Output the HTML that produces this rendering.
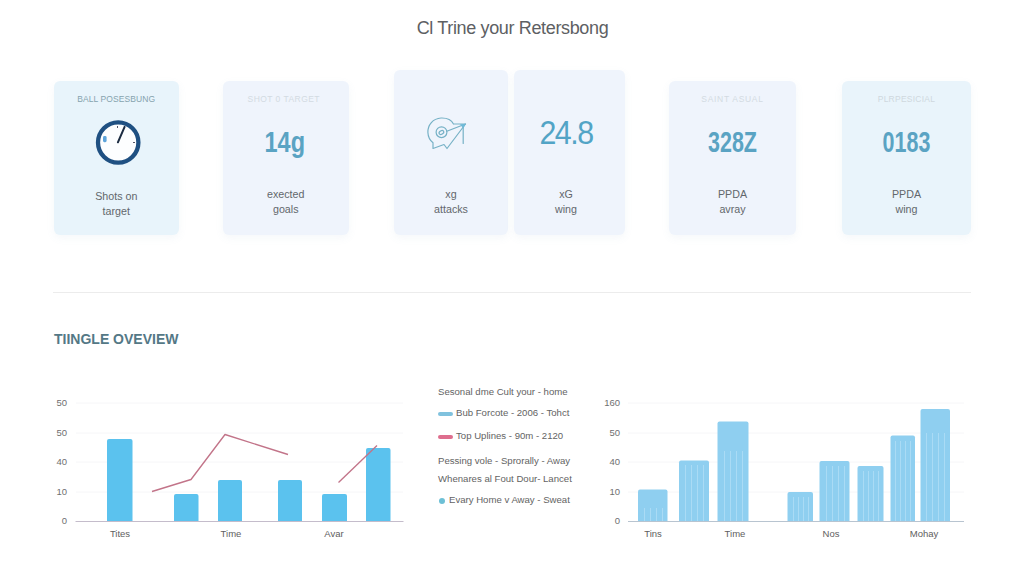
<!DOCTYPE html>
<html><head><meta charset="utf-8">
<style>
*{margin:0;padding:0;box-sizing:border-box}
html,body{width:1024px;height:585px;overflow:hidden;background:#ffffff;font-family:"Liberation Sans",sans-serif}
.a{position:absolute;white-space:nowrap}
.card{position:absolute;border-radius:6px;box-shadow:0 3px 8px rgba(120,150,180,0.07)}
.lab{position:absolute;font-size:8.5px;text-align:center;letter-spacing:0.1px;width:100%;left:0}
.txt{position:absolute;font-size:10.7px;color:#62676b;text-align:center;width:100%;left:0;line-height:15px}
.big{position:absolute;font-weight:bold;color:#5aa3c3;text-align:center;width:100%;left:0;font-size:29px;line-height:29px;transform:scaleX(0.74)}
.yl{position:absolute;font-size:9.5px;color:#707070;text-align:right;width:30px}
.xl{position:absolute;font-size:9.5px;color:#606060;text-align:center;width:60px}
.leg{position:absolute;font-size:9.6px;color:#636363;left:438px}
</style></head><body>

<div class="a" style="left:0;width:1024px;text-align:center;top:18px;font-size:18px;color:#5d6063;letter-spacing:-0.35px;padding-left:1px">Cl Trine your Retersbong</div>

<!-- card 1 -->
<div class="card" style="left:53.5px;top:81px;width:125.5px;height:154px;background:#e8f4fb">
  <div class="lab" style="top:13px;color:#86a3ae">BALL POSESBUNG</div>
  <svg style="position:absolute;left:40px;top:38px" width="48" height="48" viewBox="0 0 48 48">
    <circle cx="24.2" cy="23.5" r="20.2" fill="#fdfeff" stroke="#1f5082" stroke-width="4.3"/>
    <line x1="23.9" y1="23.3" x2="30.6" y2="7.9" stroke="#1c2c42" stroke-width="2" stroke-linecap="round"/>
    <line x1="23.5" y1="7" x2="23.5" y2="9" stroke="#556" stroke-width="1"/>
    <line x1="39" y1="23.5" x2="41" y2="23.5" stroke="#556" stroke-width="1"/>
    <rect x="9" y="17" width="3.6" height="6.2" rx="1.4" fill="#5ea4db"/>
  </svg>
  <div class="txt" style="top:108px">Shots on<br>target</div>
</div>

<!-- card 2 -->
<div class="card" style="left:223px;top:81px;width:125.5px;height:154px;background:#eff4fc">
  <div class="lab" style="top:13px;color:#d3dbe2;letter-spacing:0.45px;left:-2px">SHOT 0 TARGET</div>
  <div class="big" style="top:47px;left:-1px;transform:scaleX(0.81)">14g</div>
  <div class="txt" style="top:106px">exected<br>goals</div>
</div>

<!-- card 3 -->
<div class="card" style="left:394px;top:70px;width:114px;height:165px;background:#eff4fc">
  <svg style="position:absolute;left:30px;top:44px" width="48" height="40" viewBox="0 0 48 40">
    <g fill="none" stroke="#76b1c6" stroke-width="1.2" stroke-linejoin="round" stroke-linecap="round">
      <path d="M29.5 10 C27 5 22 3.8 17 4 C9 4.5 3.6 11 3.9 18.5 C4.1 23 6 26.5 9 28.8 L9 34.5 L20 30.5 L23 34.5 L41.5 10 L29.5 10"/>
      <circle cx="17.5" cy="18.2" r="5.4"/>
      <ellipse cx="17.4" cy="18.5" rx="2.5" ry="1.7" transform="rotate(-30 17.4 18.5)"/>
      <path d="M22.8 17.3 L41.5 10"/>
      <path d="M39.2 12.5 L39.2 29.5"/>
    </g>
    <path d="M36 10.3 L41.6 10 L39.3 14.5 Z" fill="#6fbad8"/>
  </svg>
  <div class="txt" style="top:117px">xg<br>attacks</div>
</div>

<!-- card 4 -->
<div class="card" style="left:513.5px;top:70px;width:111px;height:165px;background:#eff4fc">
  <div class="a" style="left:0;width:106px;text-align:center;top:44px;font-size:33px;color:#52a4c6;letter-spacing:-1.6px;width:104px;transform:scaleX(0.92)">24.8</div>
  <div class="txt" style="top:117px;left:-3px">xG<br>wing</div>
</div>

<!-- card 5 -->
<div class="card" style="left:669px;top:81px;width:127px;height:154px;background:#eff4fc">
  <div class="lab" style="top:13px;color:#d3dbe2;letter-spacing:0.7px">SAINT ASUAL</div>
  <div class="big" style="top:47px">328Z</div>
  <div class="txt" style="top:106px">PPDA<br>avray</div>
</div>

<!-- card 6 -->
<div class="card" style="left:842px;top:80.5px;width:129px;height:154.5px;background:#e9f4fb">
  <div class="lab" style="top:13px;color:#cfd8de;letter-spacing:0.25px">PLRPESICIAL</div>
  <div class="big" style="top:47px">0183</div>
  <div class="txt" style="top:106px">PPDA<br>wing</div>
</div>

<div class="a" style="left:53px;top:292px;width:918px;height:1px;background:#ececec"></div>

<div class="a" style="left:54px;top:331px;font-size:14px;font-weight:bold;color:#547886">TIINGLE OVEVIEW</div>

<!-- chart 1 -->
<svg class="a" style="left:0;top:380px" width="420" height="170" viewBox="0 380 420 170">
  <g stroke="#f6f6f8" stroke-width="1">
    <line x1="76" y1="403" x2="403" y2="403"/>
    <line x1="76" y1="433" x2="403" y2="433"/>
    <line x1="76" y1="462" x2="403" y2="462"/>
    <line x1="76" y1="492" x2="403" y2="492"/>
  </g>
  <g fill="#5bc2ee">
    <path d="M107 521 V441 Q107 439 109 439 H130.5 Q132.5 439 132.5 441 V521Z"/>
    <path d="M174 521 V496 Q174 494 176 494 H196.5 Q198.5 494 198.5 496 V521Z"/>
    <path d="M218 521 V482 Q218 480 220 480 H240 Q242 480 242 482 V521Z"/>
    <path d="M278 521 V482 Q278 480 280 480 H300 Q302 480 302 482 V521Z"/>
    <path d="M322 521 V496 Q322 494 324 494 H345 Q347 494 347 496 V521Z"/>
    <path d="M366 521 V450 Q366 448 368 448 H388.5 Q390.5 448 390.5 450 V521Z"/>
  </g>
  <line x1="75.5" y1="521.5" x2="403.5" y2="521.5" stroke="#c4bccb" stroke-width="1"/>
  <g fill="none" stroke="#c27489" stroke-width="1.35" stroke-linejoin="round">
    <polyline points="152,491.5 191,479.5 225,434.5 288,454.5"/>
    <polyline points="338.5,482.5 377,445.5"/>
  </g>
</svg>
<div class="yl" style="left:37px;top:397px">50</div>
<div class="yl" style="left:37px;top:427px">50</div>
<div class="yl" style="left:37px;top:456px">40</div>
<div class="yl" style="left:37px;top:486px">10</div>
<div class="yl" style="left:37px;top:515px">0</div>
<div class="xl" style="left:90px;top:528px">Tites</div>
<div class="xl" style="left:201px;top:528px">Time</div>
<div class="xl" style="left:304px;top:528px">Avar</div>

<!-- legend -->
<div class="leg" style="top:386px">Sesonal dme Cult your - home</div>
<div class="a" style="left:438px;top:411.5px;width:15px;height:4px;border-radius:2px;background:#80c2de"></div>
<div class="leg" style="left:456px;top:407px">Bub Forcote - 2006 - Tohct</div>
<div class="a" style="left:438px;top:434.5px;width:15px;height:4px;border-radius:2px;background:#de6e8e"></div>
<div class="leg" style="left:456px;top:430px">Top Uplines - 90m - 2120</div>
<div class="leg" style="top:455px">Pessing vole - Sprorally - Away</div>
<div class="leg" style="top:473px">Whenares al Fout Dour- Lancet</div>
<div class="a" style="left:438.5px;top:497.5px;width:6px;height:6px;border-radius:3px;background:#6dc0d6"></div>
<div class="leg" style="left:449px;top:494px">Evary Home v Away - Sweat</div>

<!-- chart 2 -->
<svg class="a" style="left:580px;top:380px" width="420" height="170" viewBox="580 380 420 170">
  <g stroke="#f6f6f8" stroke-width="1">
    <line x1="628" y1="403" x2="964" y2="403"/>
    <line x1="628" y1="433" x2="964" y2="433"/>
    <line x1="628" y1="462" x2="964" y2="462"/>
    <line x1="628" y1="492" x2="964" y2="492"/>
  </g>
  <g fill="#8fcff0">
    <path d="M638 521 V491.5 Q638 489.5 640 489.5 H665.5 Q667.5 489.5 667.5 491.5 V521Z"/>
    <path d="M679 521 V462.5 Q679 460.5 681 460.5 H707 Q709 460.5 709 462.5 V521Z"/>
    <path d="M717.5 521 V423.5 Q717.5 421.5 719.5 421.5 H746.5 Q748.5 421.5 748.5 423.5 V521Z"/>
    <path d="M787.5 521 V494 Q787.5 492 789.5 492 H811 Q813 492 813 494 V521Z"/>
    <path d="M819.5 521 V463 Q819.5 461 821.5 461 H847.5 Q849.5 461 849.5 463 V521Z"/>
    <path d="M857.5 521 V468 Q857.5 466 859.5 466 H881.5 Q883.5 466 883.5 468 V521Z"/>
    <path d="M890.5 521 V437.5 Q890.5 435.5 892.5 435.5 H913 Q915 435.5 915 437.5 V521Z"/>
    <path d="M920.5 521 V411 Q920.5 409 922.5 409 H948 Q950 409 950 411 V521Z"/>
  </g>
  <g stroke="#b4e0f7" stroke-width="1" opacity="0.75">
    <line x1="644.5" y1="508" x2="644.5" y2="521"/>
    <line x1="650.5" y1="508" x2="650.5" y2="521"/>
    <line x1="656.5" y1="508" x2="656.5" y2="521"/>
    <line x1="662.5" y1="508" x2="662.5" y2="521"/>
    <line x1="685.5" y1="465" x2="685.5" y2="521"/>
    <line x1="691.5" y1="465" x2="691.5" y2="521"/>
    <line x1="697.5" y1="465" x2="697.5" y2="521"/>
    <line x1="703.5" y1="465" x2="703.5" y2="521"/>
    <line x1="724.5" y1="451" x2="724.5" y2="521"/>
    <line x1="730.5" y1="451" x2="730.5" y2="521"/>
    <line x1="736.5" y1="451" x2="736.5" y2="521"/>
    <line x1="742.5" y1="451" x2="742.5" y2="521"/>
    <line x1="793.5" y1="497" x2="793.5" y2="521"/>
    <line x1="798.5" y1="497" x2="798.5" y2="521"/>
    <line x1="803.5" y1="497" x2="803.5" y2="521"/>
    <line x1="808.5" y1="497" x2="808.5" y2="521"/>
    <line x1="826.5" y1="466" x2="826.5" y2="521"/>
    <line x1="832.5" y1="466" x2="832.5" y2="521"/>
    <line x1="838.5" y1="466" x2="838.5" y2="521"/>
    <line x1="844.5" y1="466" x2="844.5" y2="521"/>
    <line x1="863.5" y1="471" x2="863.5" y2="521"/>
    <line x1="868.5" y1="471" x2="868.5" y2="521"/>
    <line x1="873.5" y1="471" x2="873.5" y2="521"/>
    <line x1="878.5" y1="471" x2="878.5" y2="521"/>
    <line x1="895.5" y1="441" x2="895.5" y2="521"/>
    <line x1="900.5" y1="441" x2="900.5" y2="521"/>
    <line x1="905.5" y1="441" x2="905.5" y2="521"/>
    <line x1="910.5" y1="441" x2="910.5" y2="521"/>
    <line x1="926.5" y1="433" x2="926.5" y2="521"/>
    <line x1="932.5" y1="433" x2="932.5" y2="521"/>
    <line x1="938.5" y1="433" x2="938.5" y2="521"/>
    <line x1="944.5" y1="433" x2="944.5" y2="521"/>
  </g>
  <line x1="628" y1="521.5" x2="964" y2="521.5" stroke="#b8c4d0" stroke-width="1"/>
</svg>
<div class="yl" style="left:590px;top:397px">160</div>
<div class="yl" style="left:590px;top:427px">50</div>
<div class="yl" style="left:590px;top:456px">40</div>
<div class="yl" style="left:590px;top:486px">10</div>
<div class="yl" style="left:590px;top:515px">0</div>
<div class="xl" style="left:623px;top:528px">Tins</div>
<div class="xl" style="left:705px;top:528px">Time</div>
<div class="xl" style="left:801px;top:528px">Nos</div>
<div class="xl" style="left:894px;top:528px">Mohay</div>

</body></html>
